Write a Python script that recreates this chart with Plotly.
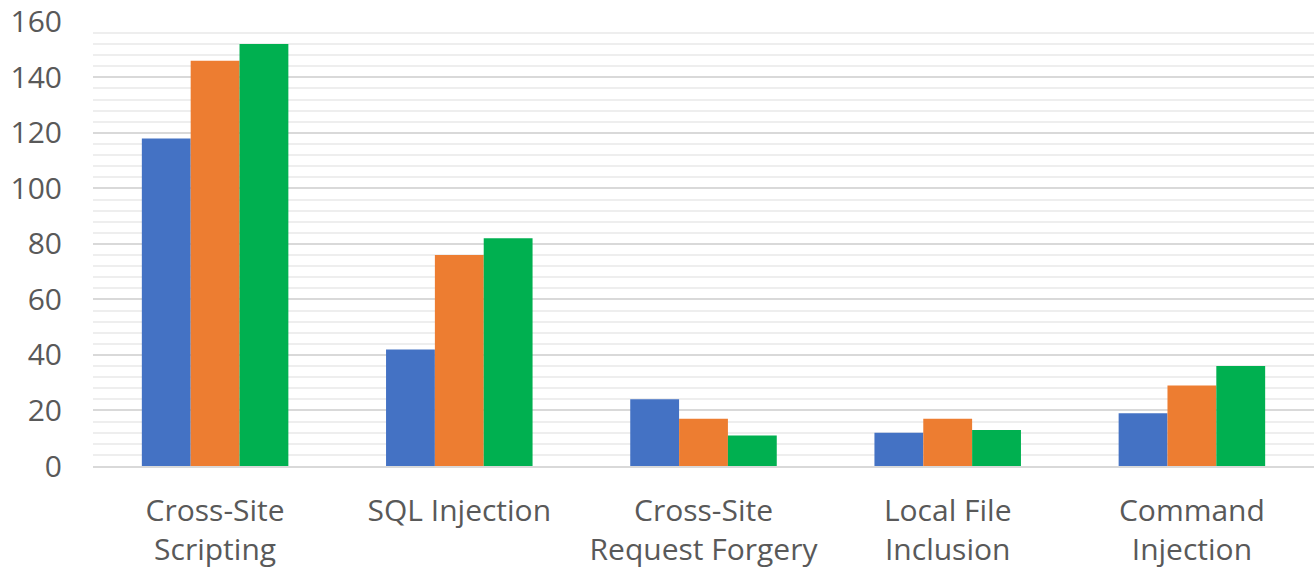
import plotly.graph_objects as go

categories = ["Cross-Site<br>Scripting", "SQL Injection", "Cross-Site<br>Request Forgery",
              "Local File<br>Inclusion", "Command<br>Injection"]
series_a = [118, 42, 24, 12, 19]
series_b = [146, 76, 17, 17, 29]
series_c = [152, 82, 11, 13, 36]
y_ticks = [0, 20, 40, 60, 80, 100, 120, 140, 160]

colors = ["#4472C4", "#ED7D31", "#00B050"]
names = ["Series 1", "Series 2", "Series 3"]

fig = go.Figure()
for vals, col, nm in zip([series_a, series_b, series_c], colors, names):
    fig.add_trace(go.Bar(x=categories, y=vals, name=nm, marker=dict(color=col, line=dict(width=0))))

font_family = "'Open Sans', sans-serif"
fig.update_layout(
    width=1314, height=571,
    margin=dict(l=93, r=0, t=21, b=105, autoexpand=False),
    paper_bgcolor="white", plot_bgcolor="white",
    barmode="group", bargap=0.40, bargroupgap=0,
    showlegend=False,
    font=dict(family=font_family, size=30, color="#595959"),
)
fig.update_yaxes(
    range=[0, 160.3], tickvals=y_ticks, ticktext=[str(v) for v in y_ticks],
    showgrid=True, gridcolor="#d9d9d9", gridwidth=2,
    minor=dict(dtick=4, tick0=0, showgrid=True, gridcolor="#eeeeee", gridwidth=2),
    zeroline=False, showline=False, ticks="",
    ticklabelstandoff=30, automargin=True, ticklabeloverflow="allow",
    tickfont=dict(size=30, color="#595959"),
)
fig.update_xaxes(
    showgrid=False, showline=True, linecolor="#d9d9d9", linewidth=2,
    ticks="", automargin=True, ticklabelstandoff=17,
    tickfont=dict(size=30, color="#595959"),
)
fig.write_html("out.html", config={"displayModeBar": False},
               post_script="document.body.style.margin='0';document.body.style.overflow='hidden';")
